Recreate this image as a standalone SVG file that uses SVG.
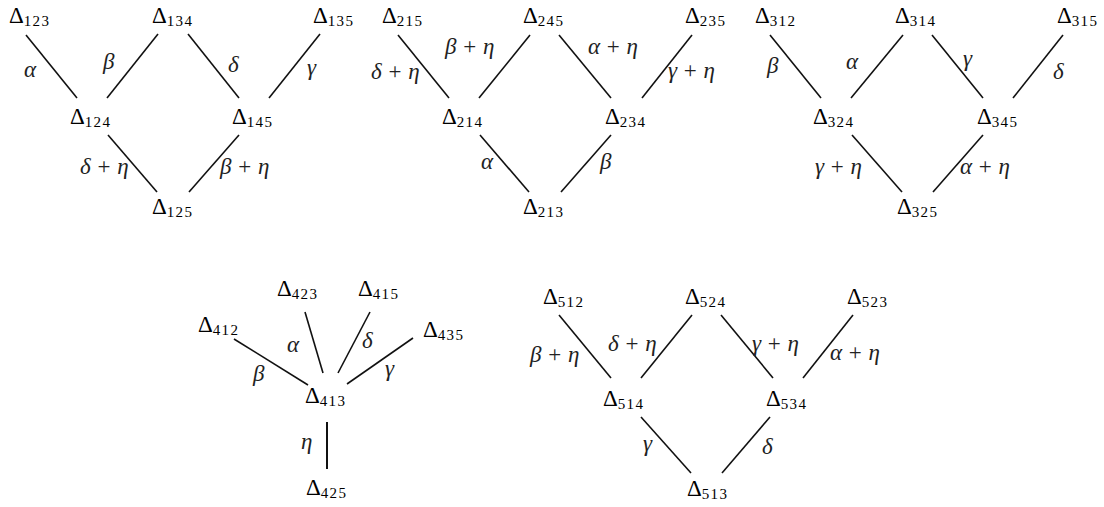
<svg xmlns="http://www.w3.org/2000/svg" width="1104" height="507" viewBox="0 0 1104 507">
<style>
.n{font-family:"Liberation Serif","DejaVu Serif",serif;font-size:23px;fill:#000}
.s{font-size:15px;letter-spacing:1.3px}
.l{font-family:"Liberation Serif","DejaVu Serif",serif;font-size:23px;font-style:italic;fill:#222;word-spacing:1px}
.p{font-style:normal}
#connectors line{stroke:#111;stroke-width:1.6}
</style>
<rect width="1104" height="507" fill="#fff"/>
<g id="connectors">
<line x1="26" y1="35" x2="77" y2="98"/>
<line x1="158" y1="34" x2="107" y2="98"/>
<line x1="188" y1="34" x2="239" y2="98"/>
<line x1="320" y1="34" x2="269" y2="98"/>
<line x1="108" y1="135" x2="157" y2="192"/>
<line x1="239" y1="135" x2="189" y2="192"/>
<line x1="398" y1="35" x2="449" y2="98"/>
<line x1="530" y1="35" x2="479" y2="98"/>
<line x1="559" y1="35" x2="611" y2="98"/>
<line x1="692" y1="35" x2="642" y2="98"/>
<line x1="480" y1="135" x2="529" y2="192"/>
<line x1="611" y1="135" x2="561" y2="192"/>
<line x1="770" y1="35" x2="821" y2="98"/>
<line x1="903" y1="35" x2="851" y2="98"/>
<line x1="932" y1="35" x2="983" y2="98"/>
<line x1="1063" y1="35" x2="1013" y2="98"/>
<line x1="852" y1="135" x2="902" y2="192"/>
<line x1="983" y1="135" x2="933" y2="192"/>
<line x1="305" y1="312" x2="323" y2="373"/>
<line x1="370" y1="312" x2="338" y2="373"/>
<line x1="234" y1="339" x2="308" y2="385"/>
<line x1="413" y1="338" x2="347" y2="384"/>
<line x1="327" y1="422" x2="327" y2="469" style="stroke-width:2"/>
<line x1="559" y1="315" x2="611" y2="378"/>
<line x1="692" y1="315" x2="641" y2="378"/>
<line x1="721" y1="315" x2="773" y2="378"/>
<line x1="853" y1="315" x2="803" y2="378"/>
<line x1="641" y1="417" x2="691" y2="473"/>
<line x1="770" y1="417" x2="722" y2="473"/>
</g>
<g id="labels">
<text class="l" x="24" y="77">α</text>
<text class="l" x="103" y="69">β</text>
<text class="l" x="228" y="72">δ</text>
<text class="l" x="307" y="75">γ</text>
<text class="l" x="80" y="174">δ <tspan class="p">+</tspan> η</text>
<text class="l" x="220" y="174">β <tspan class="p">+</tspan> η</text>
<text class="l" x="371" y="79">δ <tspan class="p">+</tspan> η</text>
<text class="l" x="445" y="54">β <tspan class="p">+</tspan> η</text>
<text class="l" x="588" y="54">α <tspan class="p">+</tspan> η</text>
<text class="l" x="668" y="78">γ <tspan class="p">+</tspan> η</text>
<text class="l" x="481" y="169">α</text>
<text class="l" x="600" y="169">β</text>
<text class="l" x="767" y="73">β</text>
<text class="l" x="846" y="69">α</text>
<text class="l" x="963" y="66">γ</text>
<text class="l" x="1053" y="79">δ</text>
<text class="l" x="815" y="174">γ <tspan class="p">+</tspan> η</text>
<text class="l" x="960" y="174">α <tspan class="p">+</tspan> η</text>
<text class="l" x="287" y="352">α</text>
<text class="l" x="362" y="348">δ</text>
<text class="l" x="253" y="381">β</text>
<text class="l" x="385" y="376">γ</text>
<text class="l" x="301" y="449">η</text>
<text class="l" x="530" y="362">β <tspan class="p">+</tspan> η</text>
<text class="l" x="608" y="351">δ <tspan class="p">+</tspan> η</text>
<text class="l" x="752" y="351">γ <tspan class="p">+</tspan> η</text>
<text class="l" x="830" y="360">α <tspan class="p">+</tspan> η</text>
<text class="l" x="643" y="451">γ</text>
<text class="l" x="762" y="454">δ</text>
</g>
<g id="n123"><text class="n" x="9" y="23">Δ<tspan class="s" dy="3">123</tspan></text></g>
<g id="n134"><text class="n" x="152" y="23">Δ<tspan class="s" dy="3">134</tspan></text></g>
<g id="n135"><text class="n" x="313" y="23">Δ<tspan class="s" dy="3">135</tspan></text></g>
<g id="n124"><text class="n" x="70" y="124">Δ<tspan class="s" dy="3">124</tspan></text></g>
<g id="n145"><text class="n" x="232" y="124">Δ<tspan class="s" dy="3">145</tspan></text></g>
<g id="n125"><text class="n" x="152" y="214">Δ<tspan class="s" dy="3">125</tspan></text></g>
<g id="n215"><text class="n" x="382" y="23">Δ<tspan class="s" dy="3">215</tspan></text></g>
<g id="n245"><text class="n" x="523" y="23">Δ<tspan class="s" dy="3">245</tspan></text></g>
<g id="n235"><text class="n" x="685" y="23">Δ<tspan class="s" dy="3">235</tspan></text></g>
<g id="n214"><text class="n" x="442" y="124">Δ<tspan class="s" dy="3">214</tspan></text></g>
<g id="n234"><text class="n" x="605" y="124">Δ<tspan class="s" dy="3">234</tspan></text></g>
<g id="n213"><text class="n" x="523" y="214">Δ<tspan class="s" dy="3">213</tspan></text></g>
<g id="n312"><text class="n" x="755" y="23">Δ<tspan class="s" dy="3">312</tspan></text></g>
<g id="n314"><text class="n" x="895" y="23">Δ<tspan class="s" dy="3">314</tspan></text></g>
<g id="n315"><text class="n" x="1057" y="23">Δ<tspan class="s" dy="3">315</tspan></text></g>
<g id="n324"><text class="n" x="813" y="124">Δ<tspan class="s" dy="3">324</tspan></text></g>
<g id="n345"><text class="n" x="977" y="124">Δ<tspan class="s" dy="3">345</tspan></text></g>
<g id="n325"><text class="n" x="897" y="214">Δ<tspan class="s" dy="3">325</tspan></text></g>
<g id="n423"><text class="n" x="277" y="296">Δ<tspan class="s" dy="3">423</tspan></text></g>
<g id="n415"><text class="n" x="358" y="296">Δ<tspan class="s" dy="3">415</tspan></text></g>
<g id="n412"><text class="n" x="198" y="332">Δ<tspan class="s" dy="3">412</tspan></text></g>
<g id="n435"><text class="n" x="423" y="337">Δ<tspan class="s" dy="3">435</tspan></text></g>
<g id="n413"><text class="n" x="305" y="403">Δ<tspan class="s" dy="3">413</tspan></text></g>
<g id="n425"><text class="n" x="306" y="495">Δ<tspan class="s" dy="3">425</tspan></text></g>
<g id="n512"><text class="n" x="543" y="304">Δ<tspan class="s" dy="3">512</tspan></text></g>
<g id="n524"><text class="n" x="685" y="304">Δ<tspan class="s" dy="3">524</tspan></text></g>
<g id="n523"><text class="n" x="847" y="304">Δ<tspan class="s" dy="3">523</tspan></text></g>
<g id="n514"><text class="n" x="603" y="406">Δ<tspan class="s" dy="3">514</tspan></text></g>
<g id="n534"><text class="n" x="766" y="406">Δ<tspan class="s" dy="3">534</tspan></text></g>
<g id="n513"><text class="n" x="687" y="496">Δ<tspan class="s" dy="3">513</tspan></text></g>
</svg>
